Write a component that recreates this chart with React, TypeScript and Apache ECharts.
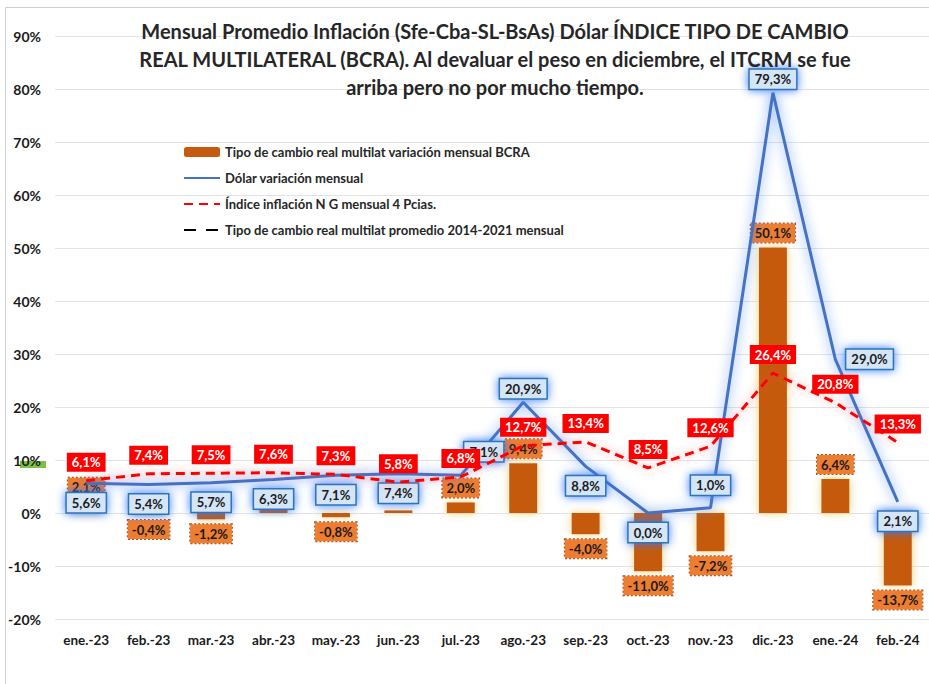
import React, { useEffect, useRef } from "react";
import * as echarts from "echarts";

const categories = ["ene.-23", "feb.-23", "mar.-23", "abr.-23", "may.-23", "jun.-23", "jul.-23", "ago.-23", "sep.-23", "oct.-23", "nov.-23", "dic.-23", "ene.-24", "feb.-24"];
const tcrmVar = [2.1, -0.4, -1.2, 0.6, -0.8, 0.5, 2.0, 9.4, -4.0, -11.0, -7.2, 50.1, 6.4, -13.7];
const dolarVar = [5.6, 5.4, 5.7, 6.3, 7.1, 7.4, 7.1, 20.9, 8.8, 0.0, 1.0, 79.3, 29.0, 2.1];
const inflacion = [6.1, 7.4, 7.5, 7.6, 7.3, 5.8, 6.8, 12.7, 13.4, 8.5, 12.6, 26.4, 20.8, 13.3];
const tcrmPromedio = [0.2, 0.2, 0.2, 0.2, 0.2, 0.2, 0.2, 0.2, 0.2, 0.2, 0.2, 0.2, 0.2, 0.2];
const yTicks = { min: -20, max: 90, interval: 10 };
const showBarLabel = [true, true, true, false, true, false, true, true, true, true, true, true, true, true];

// label placement styling for the dólar line (not data)
const dolarLabelStyle: any[] = [
  { position: "bottom", distance: 9 },
  { position: "bottom", distance: 9 },
  { position: "bottom", distance: 9 },
  { position: "bottom", distance: 9 },
  { position: "bottom", distance: 9 },
  { position: "bottom", distance: 9 },
  { position: "top", distance: 13, offset: [23, 0] },
  { position: "top", distance: 3 },
  { position: "bottom", distance: 9 },
  { position: "bottom", distance: 9 },
  { position: "top", distance: 12 },
  { position: "top", distance: 3 },
  { position: "right", distance: 10 },
  { position: "bottom", distance: 9 },
];

const FONT = "Lato";
const fmt = (v: number) => v.toFixed(1).replace(".", ",") + "%";
const hidden = "rgba(0,0,0,0)";

export default function App() {
  const ref = useRef<HTMLDivElement>(null);
  useEffect(() => {
    if (!ref.current) return;
    const chart = echarts.init(ref.current, undefined, { renderer: "svg" });
    chart.setOption({
      animation: false,
      backgroundColor: "#ffffff",
      textStyle: { fontFamily: FONT },
      title: {
        text: "Mensual Promedio Inflación (Sfe-Cba-SL-BsAs) Dólar ÍNDICE TIPO DE CAMBIO\nREAL MULTILATERAL (BCRA). Al devaluar el peso en diciembre, el ITCRM se fue\narriba pero no por mucho tiempo.",
        left: 490,
        top: 12,
        textAlign: "center",
        textStyle: { fontFamily: FONT, fontSize: 20, fontWeight: "bold", color: "#262626", lineHeight: 28 },
      },
      legend: {
        orient: "vertical",
        left: 178,
        top: 139,
        itemWidth: 36,
        itemHeight: 10,
        itemGap: 10,
        textStyle: { fontFamily: FONT, fontSize: 13, fontWeight: "bold", color: "#262626", lineHeight: 16 },
        itemStyle: { shadowBlur: 0, borderWidth: 0 },
        lineStyle: { shadowBlur: 0 },
        data: [
          "Tipo de cambio real multilat variación mensual BCRA",
          "Dólar variación mensual",
          "Índice inflación N G mensual 4 Pcias.",
          "Tipo de cambio real multilat promedio 2014-2021 mensual",
        ],
      },
      grid: { left: 55, top: 36, width: 879, height: 583 },
      xAxis: {
        type: "category",
        data: categories,
        axisLine: { show: false, onZero: false },
        axisTick: { show: false },
        axisLabel: { interval: 0, fontFamily: FONT, fontSize: 13.5, fontWeight: "bold", color: "#1a1a1a", margin: 14 },
      },
      yAxis: {
        type: "value",
        min: yTicks.min,
        max: yTicks.max,
        interval: yTicks.interval,
        axisLine: { show: false },
        axisTick: { show: false },
        splitLine: { lineStyle: { color: "#e3e3e3", width: 1 } },
        axisLabel: { formatter: (v: number) => v + "%", fontFamily: FONT, fontSize: 14, fontWeight: "bold", color: "#1a1a1a", margin: 14 },
      },
      graphic: [
        { type: "rect", left: 3, top: 5, shape: { width: 940, height: 700 }, style: { fill: "none", stroke: "#d0d0d0", lineWidth: 1 }, silent: true },
        { type: "rect", left: 20, top: 461, shape: { width: 26, height: 7 }, style: { fill: "#7CC242" }, silent: true },
      ],
      series: [
        {
          name: "Tipo de cambio real multilat variación mensual BCRA",
          type: "bar",
          z: 1,
          barWidth: 28,
          data: tcrmVar.map((v, i) => ({ value: v, label: { show: showBarLabel[i] } })),
          itemStyle: { color: "#C55A11", shadowColor: "rgba(235,205,110,0.95)", shadowBlur: 8 },
          label: {
            show: true,
            position: "outside",
            distance: 5,
            formatter: (p: any) => fmt(p.value),
            fontFamily: FONT,
            fontSize: 13,
            fontWeight: "bold",
            color: "#1a1a1a",
            backgroundColor: "#ED7D31",
            borderColor: "#A9501A",
            borderWidth: 1,
            borderType: "dotted",
            padding: [3, 4],
          },
        },
        {
          name: "Tipo de cambio real multilat promedio 2014-2021 mensual",
          type: "line",
          z: 2,
          symbol: "circle",
          symbolSize: 1,
          data: tcrmPromedio,
          lineStyle: { color: "#000000", width: 3.5, type: [12, 10], shadowColor: "rgba(0,0,0,0.55)", shadowBlur: 8 },
          itemStyle: { color: hidden, borderColor: hidden },
        },
        {
          name: "Dólar variación mensual",
          type: "line",
          z: 3,
          symbol: "circle",
          symbolSize: 1,
          showSymbol: true,
          data: dolarVar.map((v, i) => ({ value: v, label: dolarLabelStyle[i] })),
          lineStyle: { color: "#4472C4", width: 3, shadowColor: "rgba(60,130,255,0.9)", shadowBlur: 12 },
          itemStyle: { color: hidden, borderColor: hidden },
          label: {
            show: true,
            formatter: (p: any) => fmt(p.value),
            fontFamily: FONT,
            fontSize: 13,
            fontWeight: "bold",
            color: "#1a1a1a",
            backgroundColor: "#D4E5F7",
            borderColor: "#2E75B6",
            borderWidth: 1.5,
            padding: [3, 5],
            shadowColor: "rgba(50,120,255,1)",
            shadowBlur: 10,
          },
        },
        {
          name: "Índice inflación N G mensual 4 Pcias.",
          type: "line",
          z: 4,
          symbol: "circle",
          symbolSize: 1,
          showSymbol: true,
          data: inflacion,
          lineStyle: { color: "#FF0000", width: 3, type: [9, 6], shadowColor: "rgba(255,70,70,0.6)", shadowBlur: 10 },
          itemStyle: { color: hidden, borderColor: hidden },
          label: {
            show: true,
            position: "top",
            distance: 8,
            formatter: (p: any) => fmt(p.value),
            fontFamily: FONT,
            fontSize: 13,
            fontWeight: "bold",
            color: "#ffffff",
            backgroundColor: "#FF0000",
            padding: [3, 5],
          },
        },
      ],
    });
    return () => chart.dispose();
  }, []);
  return <div ref={ref} style={{ position: "fixed", left: 0, top: 0, width: 929, height: 684 }} />;
}
